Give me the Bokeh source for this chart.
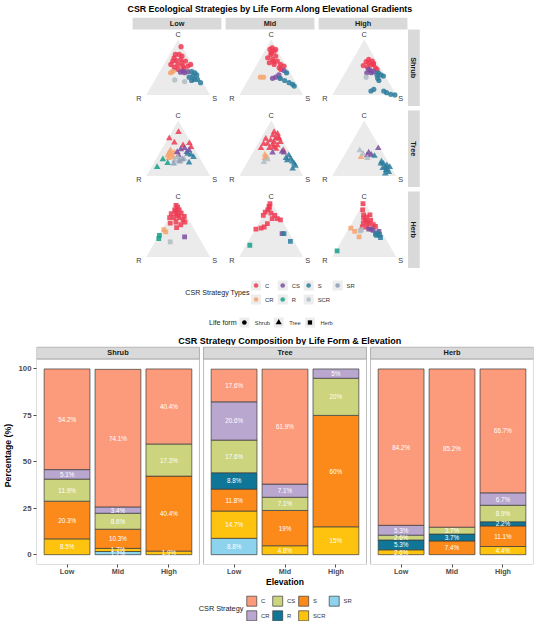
import math
from bokeh.plotting import figure
from bokeh.models import Range1d, FixedTicker
from bokeh.layouts import column
from bokeh.embed import file_html
from bokeh.resources import INLINE
from bokeh.core.properties import value

FONT = "Liberation Sans"

# ---------------- data ----------------
elevations = ["Low", "Mid", "High"]
life_forms = ["Shrub", "Tree", "Herb"]
strategies = ["C", "CR", "CS", "R", "S", "SCR", "SR"]

tern_colors = {"C": "#EF3B52", "CR": "#F7A36C", "CS": "#7B4E9F", "R": "#16A088",
               "S": "#2B7C9E", "SCR": "#AFBCC4", "SR": "#8C9DB8"}
bar_colors = {"C": "#FC9B7B", "CR": "#B9A7CF", "CS": "#CCD47E", "R": "#0F7697",
              "S": "#FB8A1B", "SCR": "#FEC30F", "SR": "#8ED3EE"}

# composition (%) ; order: Shrub Low/Mid/High, Tree Low/Mid/High, Herb Low/Mid/High
pct_C   = [54.2, 74.1, 40.4, 17.6, 61.9, 0,  84.2, 85.2, 66.7]
pct_CR  = [5.1,  3.4,  0,    20.6, 7.1,  5,  5.3,  0,    6.7]
pct_CS  = [11.9, 8.6,  17.3, 17.6, 7.1,  20, 2.6,  3.7,  8.9]
pct_R   = [0,    0,    0,    8.8,  0,    0,  5.3,  3.7,  2.2]
pct_S   = [20.3, 10.3, 40.4, 11.8, 19,   60, 0,    7.4,  11.1]
pct_SCR = [8.5,  1.7,  1.9,  14.7, 4.8,  15, 2.6,  0,    4.4]
pct_SR  = [0,    1.7,  0,    8.8,  0,    0,  0,    0,    0]

# ternary points: (strategy, C %, S %), R = 100 - C - S
tern_shrub_low = [
    ("SCR", 27, 31), ("SCR", 24, 48), ("SCR", 44, 21),
    ("C", 87, 11), ("C", 73, 9), ("C", 73, 15), ("C", 61, 11), ("C", 62, 16), ("C", 64, 22),
    ("C", 61, 31), ("C", 55, 11), ("C", 55, 22), ("C", 52, 31), ("C", 52, 39), ("C", 50, 19),
    ("C", 55, 42), ("C", 46, 27), ("C", 67, 10), ("C", 70, 21), ("C", 58, 27), ("C", 48, 35),
    ("CS", 41, 33), ("CS", 40, 40), ("CS", 42, 44), ("CS", 43, 36),
    ("CR", 40, 18), ("CR", 42, 20),
    ("S", 42, 50), ("S", 40, 56), ("S", 34, 56), ("S", 32, 51), ("S", 28, 61), ("S", 28, 66),
    ("S", 22, 74), ("S", 26, 58), ("S", 36, 61),
]
tern_shrub_mid = [
    ("SCR", 40, 54), ("SR", 30, 49),
    ("C", 85, 9), ("C", 79, 15), ("C", 73, 13), ("C", 70, 22), ("C", 67, 11), ("C", 64, 20),
    ("C", 61, 29), ("C", 58, 18), ("C", 55, 27), ("C", 55, 37), ("C", 49, 38), ("C", 52, 44),
    ("C", 82, 7), ("C", 82, 16), ("C", 76, 12), ("C", 60, 24), ("C", 46, 42),
    ("CS", 44, 48), ("CS", 36, 44), ("CS", 32, 41), ("CS", 30, 37),
    ("S", 40, 54), ("S", 30, 49), ("S", 26, 58), ("S", 22, 67), ("S", 19, 74), ("S", 16, 78),
    ("CR", 32, 17), ("CR", 32, 22),
]
tern_shrub_high = [
    ("C", 64, 25), ("C", 61, 32), ("C", 60, 23), ("C", 55, 37), ("C", 54, 33), ("C", 53, 22),
    ("C", 49, 43), ("C", 50, 30), ("C", 46, 47), ("C", 58, 28), ("C", 57, 36),
    ("CS", 46, 34), ("CS", 42, 44), ("CS", 40, 41), ("CS", 40, 34), ("CS", 44, 38),
    ("SCR", 32, 37),
    ("S", 40, 52), ("S", 36, 58), ("S", 36, 52), ("S", 26, 60), ("S", 34, 63), ("S", 30, 56),
    ("S", 7, 57), ("S", 10, 60), ("S", 7, 77), ("S", 4, 83), ("S", 1, 91), ("S", 0, 98),
]
tern_tree_low = [
    ("C", 79, 11), ("C", 68, 2), ("C", 60, 14), ("C", 59, 38), ("C", 55, 30), ("C", 52, 44),
    ("CR", 42, 15), ("CR", 38, 20), ("CR", 37, 15), ("CR", 34, 25), ("CR", 46, 15), ("CR", 42, 23),
    ("CR", 32, 19),
    ("CS", 48, 30), ("CS", 50, 35), ("CS", 37, 32), ("CS", 46, 44), ("CS", 43, 42), ("CS", 43, 27),
    ("R", 30, 11), ("R", 23, 22), ("R", 16, 9),
    ("S", 38, 51), ("S", 34, 57), ("S", 24, 55), ("S", 40, 45),
    ("SCR", 28, 30), ("SCR", 31, 44), ("SCR", 28, 40), ("SCR", 34, 32), ("SCR", 30, 36),
    ("SR", 22, 32), ("SR", 26, 39), ("SR", 30, 42),
]
tern_tree_mid = [
    ("C", 79, 15), ("C", 76, 22), ("C", 73, 16), ("C", 68, 23), ("C", 67, 29), ("C", 64, 17),
    ("C", 61, 24), ("C", 61, 34), ("C", 58, 15), ("C", 56, 24), ("C", 55, 32), ("C", 58, 9),
    ("C", 50, 9), ("C", 50, 22), ("C", 46, 46), ("C", 49, 33), ("C", 67, 8), ("C", 70, 26),
    ("C", 52, 28),
    ("CS", 42, 31), ("CS", 44, 45), ("CS", 42, 49),
    ("CR", 38, 21), ("CR", 34, 26), ("CR", 32, 24),
    ("SCR", 25, 26), ("SCR", 30, 29),
    ("S", 37, 59), ("S", 31, 65), ("S", 28, 61), ("S", 22, 75), ("S", 18, 79), ("S", 13, 77),
    ("S", 32, 57), ("S", 26, 70),
]
tern_tree_high = [
    ("CS", 50, 47), ("CS", 42, 36), ("CS", 38, 42), ("CS", 37, 36),
    ("CR", 34, 28),
    ("SCR", 46, 20), ("SCR", 32, 39), ("SCR", 40, 28),
    ("S", 36, 48), ("S", 26, 64), ("S", 22, 69), ("S", 16, 75), ("S", 19, 76), ("S", 16, 82),
    ("S", 14, 72), ("S", 10, 79), ("S", 7, 85), ("S", 4, 81), ("S", 22, 65), ("S", 12, 80),
]
tern_herb_low = [
    ("C", 93, 0), ("C", 90, 4), ("C", 85, 2), ("C", 85, 9), ("C", 78, 0), ("C", 78, 8),
    ("C", 79, 15), ("C", 73, 23), ("C", 71, 8), ("C", 71, 16), ("C", 71, 1), ("C", 67, 24),
    ("C", 61, 7), ("C", 63, 15), ("C", 58, 25), ("C", 63, 29), ("C", 53, 21), ("C", 82, 5),
    ("C", 75, 12),
    ("CR", 49, 3), ("CR", 45, 8),
    ("R", 39, 1), ("R", 33, 3),
    ("CS", 36, 42),
    ("SCR", 27, 24),
]
tern_herb_mid = [
    ("C", 96, 0), ("C", 91, 1), ("C", 85, 2), ("C", 81, 0), ("C", 75, 0), ("C", 79, 10),
    ("C", 75, 18), ("C", 69, 17), ("C", 69, 25), ("C", 67, 31), ("C", 60, 14), ("C", 54, 12),
    ("C", 52, 8), ("C", 50, 1), ("C", 88, 3),
    ("CS", 42, 46),
    ("S", 42, 49), ("S", 28, 66),
    ("R", 21, 6),
]
tern_herb_high = [
    ("C", 96, 0), ("C", 85, 5), ("C", 76, 11), ("C", 72, 18), ("C", 76, 21), ("C", 66, 19),
    ("C", 66, 27), ("C", 60, 27), ("C", 58, 35), ("C", 55, 40), ("C", 61, 18), ("C", 54, 27),
    ("C", 54, 20), ("C", 70, 14), ("C", 63, 23),
    ("CR", 52, 3), ("CR", 46, 12), ("CR", 36, 24),
    ("SCR", 47, 20), ("SCR", 49, 21),
    ("CS", 50, 32), ("CS", 50, 36), ("CS", 46, 50), ("CS", 48, 40),
    ("S", 43, 49), ("S", 40, 54), ("S", 39, 50), ("S", 35, 58), ("S", 41, 47),
    ("R", 11, 2),
]

tern_panels = [
    [tern_shrub_low, tern_shrub_mid, tern_shrub_high],
    [tern_tree_low, tern_tree_mid, tern_tree_high],
    [tern_herb_low, tern_herb_mid, tern_herb_high],
]
life_markers = {"Shrub": ("circle", 5.2), "Tree": ("triangle", 6.6), "Herb": ("square", 4.8)}

# ---------------- shared layout ----------------
W = 534
BL, BR = 35, 1          # left/right borders shared by all figures (frames align)
XR = (BL, W - BR)       # pixel-unit x range for the annotation figures

# ---------------- top figure (ternary facets) ----------------
TOP_H = 345
top = figure(width=W, height=TOP_H, x_range=Range1d(*XR), y_range=Range1d(TOP_H, 0),
             x_axis_type=None, y_axis_type=None, output_backend="svg",
             toolbar_location=None, min_border_left=BL, min_border_right=BR,
             min_border_top=0, min_border_bottom=0)
top.grid.visible = False
top.outline_line_color = None


def txt(p, x, y, s, size, bold=False, color="#000000", align="center", angle=0.0):
    p.text(x=[x], y=[y], text=[s], text_font=value(FONT), text_font_size=size,
           text_font_style="bold" if bold else "normal", text_color=color,
           text_align=align, text_baseline="middle", angle=angle)


txt(top, 269, 8.5, "CSR Ecological Strategies by Life Form Along Elevational Gradients",
    "8.8px", bold=True)

col_left = [131.3 + i * 93.2 for i in range(3)]
col_w = 89.0
row_top = [29.0 + j * 81.0 for j in range(3)]
row_h = 76.5
TW, TH = 64.0, 55.4

for i, el in enumerate(elevations):
    x0 = col_left[i]
    top.quad(left=[x0], right=[x0 + col_w], top=[17.3], bottom=[29.0],
             fill_color="#D9D9D9", line_color=None)
    txt(top, x0 + col_w / 2, 23.2, el, "7.3px", bold=True, color="#1A1A1A")

for j, lf in enumerate(life_forms):
    y0 = row_top[j]
    top.quad(left=[407.3], right=[419.0], top=[y0], bottom=[y0 + row_h],
             fill_color="#D9D9D9", line_color=None)
    txt(top, 413.2, y0 + row_h / 2, lf, "7.3px", bold=True, color="#1A1A1A",
        angle=-math.pi / 2)
    marker, msize = life_markers[lf]
    for i in range(3):
        lx = col_left[i] + 13.7
        by = y0 + 65.4
        top.patch(x=[lx, lx + TW, lx + TW / 2], y=[by, by, by - TH],
                  fill_color="#EBEBEB", line_color=None)
        txt(top, lx + TW / 2, by - TH - 5.5, "C", "7.3px", color="#3A3A3A")
        txt(top, lx - 7.5, by + 3.5, "R", "7.3px", color="#3A3A3A")
        txt(top, lx + TW + 4.5, by + 3.5, "S", "7.3px", color="#3A3A3A")
        pts = tern_panels[j][i]
        xs = [lx + (s + c / 2.0) / 100.0 * TW for (_, c, s) in pts]
        ys = [by - c / 100.0 * TH for (_, c, s) in pts]
        cols = [tern_colors[k] for (k, _, _) in pts]
        top.scatter(x=xs, y=ys, marker=marker, size=msize, fill_color=cols,
                    line_color=None, fill_alpha=0.85)

# legend: CSR Strategy Types
txt(top, 248.5, 292, "CSR Strategy Types", "7.1px", color="#1A1A1A", align="right")
leg_cols_x = [255.0, 281.7, 307.7, 336.7]
leg_rows_y = [285.0, 299.0]
for n, k in enumerate(strategies):
    cx = leg_cols_x[n // 2]
    cy = leg_rows_y[n % 2]
    top.quad(left=[cx - 5], right=[cx + 5], top=[cy - 5], bottom=[cy + 5],
             fill_color="#EDEDED", line_color=None)
    top.scatter(x=[cx], y=[cy], marker="circle", size=4.6, fill_color=tern_colors[k],
                line_color=None, fill_alpha=0.85)
    txt(top, cx + 9, cy, k, "5.9px", color="#333333", align="left")

# legend: Life form
LFY = 322
txt(top, 235.5, LFY, "Life form", "7.1px", color="#1A1A1A", align="right")
lf_key_x = [243.3, 277.7, 309.0]
for n, lf in enumerate(life_forms):
    cx = lf_key_x[n]
    marker, msize = life_markers[lf]
    top.quad(left=[cx - 5], right=[cx + 5], top=[LFY - 5], bottom=[LFY + 5],
             fill_color="#EDEDED", line_color=None)
    top.scatter(x=[cx], y=[LFY], marker=marker, size=msize - 0.5, fill_color="#000000",
                line_color=None)
    txt(top, cx + 10.5, LFY, lf, "5.7px", color="#333333", align="left")

txt(top, 288.7, 340, "CSR Strategy Composition by Life Form & Elevation",
    "9.0px", bold=True)

# ---------------- bar figure ----------------
BAR_H = 248
slot = 25.0
panel_w = 3.2 * slot
gap = 2.0
panel_left = [10.0 + k * (panel_w + gap) for k in range(3)]
Y0, Y1 = -5.3, 105.4
STRIP_TOP = 111.8

bar = figure(width=W, height=BAR_H, x_range=Range1d(panel_left[0], panel_left[2] + panel_w),
             y_range=Range1d(Y0, 112.1), output_backend="svg", toolbar_location=None,
             min_border_top=1, min_border_bottom=29, min_border_left=BL, min_border_right=BR)
bar.grid.visible = False
bar.outline_line_color = None

pct = {"C": pct_C, "CR": pct_CR, "CS": pct_CS, "R": pct_R, "S": pct_S, "SCR": pct_SCR, "SR": pct_SR}
bar_x = []
for k in range(3):
    for e in range(3):
        bar_x.append(panel_left[k] + (0.6 + e) * slot)

for k, lf in enumerate(life_forms):
    pl = panel_left[k]
    bar.quad(left=[pl], right=[pl + panel_w], bottom=[Y0], top=[Y1], fill_color=None,
             line_color="#B5B5B5", line_width=0.9)
    bar.quad(left=[pl], right=[pl + panel_w], bottom=[Y1], top=[STRIP_TOP], fill_color="#D9D9D9",
             line_color="#A8A8A8", line_width=0.9)
    bar.text(x=[pl + panel_w / 2], y=[(Y1 + STRIP_TOP) / 2], text=[lf], text_font=value(FONT),
             text_font_size="7.4px", text_font_style="bold", text_color="#1A1A1A",
             text_align="center", text_baseline="middle")

stack_order = ["SR", "SCR", "S", "R", "CS", "CR", "C"]
base = [0.0] * 9
lab_x, lab_y, lab_t = [], [], []
for k in stack_order:
    xs, bots, tops_ = [], [], []
    for n in range(9):
        v = pct[k][n]
        if v <= 0:
            continue
        xs.append(bar_x[n])
        bots.append(base[n])
        tops_.append(base[n] + v)
        lab_x.append(bar_x[n])
        lab_y.append(base[n] + v / 2)
        lab_t.append(f"{v:g}%")
        base[n] += v
    bar.vbar(x=xs, bottom=bots, top=tops_, width=0.9 * slot, fill_color=bar_colors[k],
             line_color="#3B3B3B", line_width=0.7)

bar.text(x=lab_x, y=lab_y, text=lab_t, text_font=value(FONT), text_font_size="6.3px",
         text_color="#FFFFFF", text_align="center", text_baseline="middle")

bar.xaxis.ticker = FixedTicker(ticks=[int(round(v)) for v in bar_x])
bar.xaxis.major_label_overrides = {int(round(bar_x[n])): elevations[n % 3] for n in range(9)}
bar.yaxis.ticker = FixedTicker(ticks=[0, 25, 50, 75, 100])
for ax in (bar.xaxis[0], bar.yaxis[0]):
    ax.axis_line_color = None
    ax.major_tick_out = 3
    ax.major_tick_in = 0
    ax.minor_tick_line_color = None
    ax.major_tick_line_color = "#4D4D4D"
    ax.major_label_text_font = FONT
    ax.major_label_text_font_style = "bold"
    ax.major_label_text_color = "#4D4D4D"
    ax.axis_label_text_font = FONT
    ax.axis_label_text_font_style = "bold"
    ax.axis_label_text_color = "#000000"
bar.xaxis.major_label_text_font_size = "7.2px"
bar.yaxis.major_label_text_font_size = "7.8px"
bar.xaxis.major_label_standoff = -1
bar.yaxis.major_label_standoff = 2
bar.xaxis.axis_label = "Elevation"
bar.yaxis.axis_label = "Percentage (%)"
bar.xaxis.axis_label_text_font_size = "8.5px"
bar.yaxis.axis_label_text_font_size = "8.8px"
bar.xaxis.axis_label_standoff = -2
bar.yaxis.axis_label_standoff = 2

# ---------------- bar legend figure ----------------
LEG_H = 28
leg = figure(width=W, height=LEG_H, x_range=Range1d(*XR), y_range=Range1d(LEG_H, 0),
             x_axis_type=None, y_axis_type=None, output_backend="svg",
             toolbar_location=None, min_border_left=BL, min_border_right=BR,
             min_border_top=0, min_border_bottom=0)
leg.grid.visible = False
leg.outline_line_color = None


def ly(yr):
    return yr - 605


txt(leg, 242.3, ly(620.0), "CSR Strategy", "7.3px", color="#1A1A1A", align="right")
key_left = [245.7, 271.7, 297.7, 328.3]
key_top = [607.7, 622.3]
for n, k in enumerate(strategies):
    x0 = key_left[n // 2]
    y0 = ly(key_top[n % 2])
    leg.quad(left=[x0], right=[x0 + 10], top=[y0], bottom=[y0 + 10], fill_color=bar_colors[k],
             line_color="#3B3B3B", line_width=0.7)
    txt(leg, x0 + 14.3, y0 + 5, k, "5.9px", color="#333333", align="left")

layout = column(top, bar, leg, spacing=0)
open("out.html", "w").write(file_html(layout, INLINE))
